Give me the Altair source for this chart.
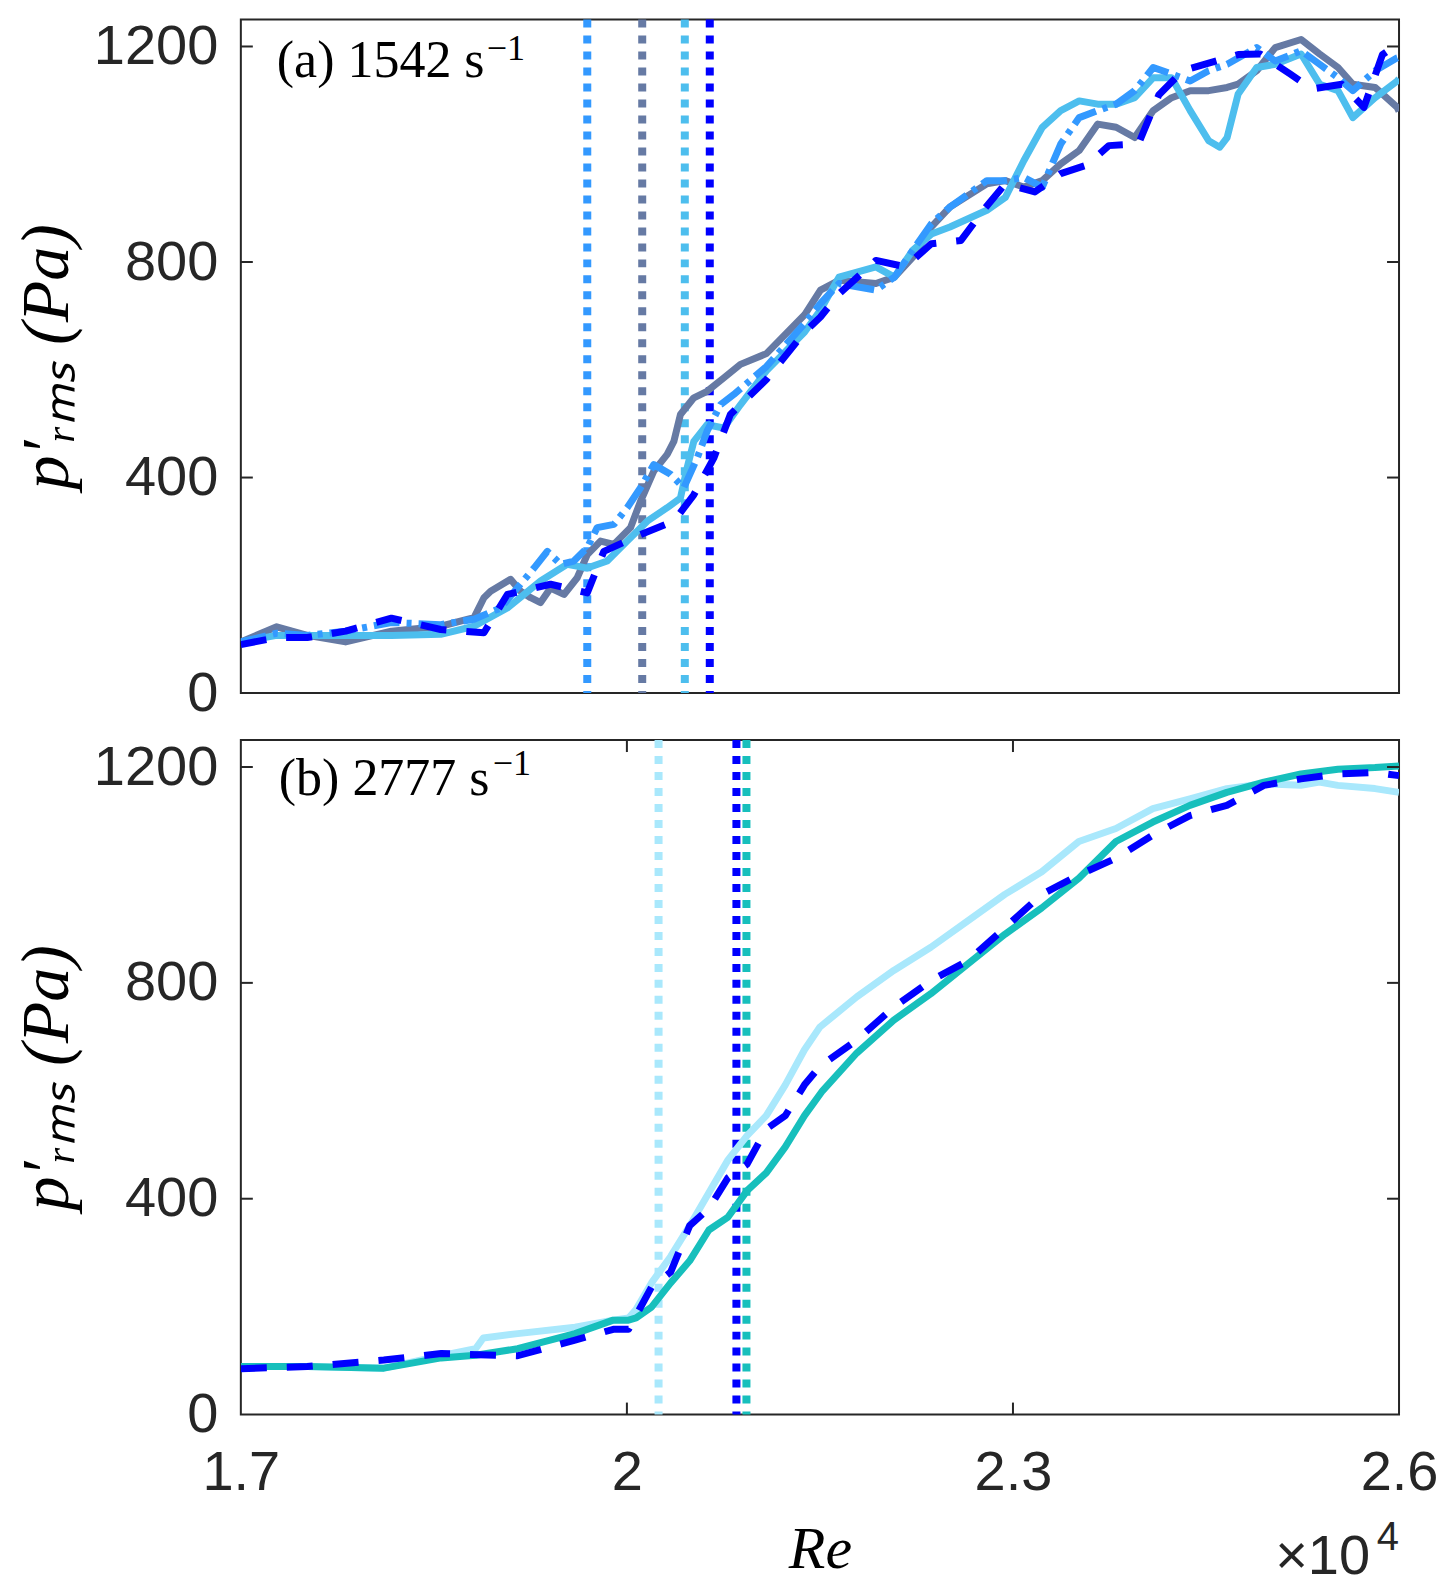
import altair as alt
import pandas as pd

RE_MIN, RE_MAX = 17000, 26000
P_MAX = 1250
W, H_TOP, H_BOT = 1159, 674, 675

# ---------------- panel (a) 1542 s^-1 ----------------
a_grey_re = [17000, 17279, 17516, 17814, 18170, 18553, 18812, 18889, 18941, 19096, 19174, 19252, 19329, 19407,
             19511, 19614, 19692, 19795, 19899, 20028, 20106, 20209, 20313, 20365, 20416, 20520, 20623, 20753,
             20882, 21084, 21381, 21504, 21648, 21935, 22079, 22222, 22366, 22510, 22797, 22941, 23084, 23228,
             23371, 23515, 23659, 23802, 23946, 24090, 24233, 24377, 24521, 24664, 24750, 24894, 25038, 25239,
             25383, 25526, 25641, 25814, 25986, 26000]
a_grey_p = [95, 123, 107, 95, 115, 124, 140, 177, 189, 211, 189, 177, 168, 195,
            183, 214, 257, 282, 276, 307, 356, 412, 443, 467, 517, 548, 560, 585,
            610, 630, 702, 748, 766, 760, 772, 809, 865, 902, 945, 951, 939, 951,
            982, 1007, 1056, 1050, 1031, 1081, 1105, 1118, 1118, 1124, 1130, 1155, 1198, 1213,
            1186, 1161, 1130, 1124, 1087, 1080]

a_dodger_re = [17000, 17279, 17516, 17814, 18170, 18553, 18812, 19019, 19148, 19278, 19381, 19485, 19588, 19692,
               19769, 19899, 20002, 20106, 20209, 20339, 20442, 20546, 20623, 20727, 20830, 21084, 21381, 21504,
               21648, 21935, 22079, 22222, 22366, 22510, 22797, 22941, 23084, 23228, 23371, 23515, 23659, 23802,
               23946, 24090, 24233, 24377, 24521, 24664, 24894, 25038, 25239, 25383, 25526, 25641, 25814, 25986,
               26000]
a_dodger_p = [95, 111, 107, 115, 131, 127, 137, 158, 195, 232, 263, 239, 245, 270,
              307, 313, 344, 381, 424, 406, 381, 436, 486, 535, 554, 606, 686, 723,
              760, 748, 772, 822, 871, 902, 951, 951, 957, 939, 1019, 1068, 1081, 1093,
              1118, 1161, 1149, 1136, 1155, 1167, 1198, 1173, 1192, 1167, 1142, 1118, 1155, 1179,
              1180]

a_light_re = [17000, 17279, 17516, 17814, 18170, 18553, 18812, 19071, 19329, 19536, 19692, 19847, 20002, 20158,
              20313, 20416, 20468, 20520, 20623, 20753, 20882, 21084, 21381, 21504, 21648, 21935, 22079, 22222,
              22366, 22510, 22797, 22941, 23084, 23228, 23371, 23515, 23659, 23802, 23946, 24090, 24233, 24377,
              24521, 24607, 24664, 24750, 24894, 25038, 25239, 25383, 25526, 25641, 25814, 25986, 26000]
a_light_p = [95, 107, 107, 107, 107, 109, 124, 158, 208, 239, 232, 245, 282, 319,
             344, 362, 418, 467, 498, 492, 535, 598, 670, 711, 772, 791, 772, 822,
             852, 865, 896, 920, 988, 1050, 1081, 1099, 1093, 1093, 1105, 1142, 1142, 1081,
             1025, 1013, 1031, 1112, 1161, 1167, 1186, 1130, 1118, 1068, 1105, 1136, 1140]

a_blue_re = [17000, 17279, 17516, 17814, 18170, 18553, 18889, 19071, 19407, 19692, 19821, 20106, 20365, 20520,
             20675, 20804, 21084, 21381, 21504, 21648, 21935, 22165, 22366, 22596, 22783, 22941, 23170, 23371,
             23573, 23745, 23975, 24133, 24320, 24750, 24923, 25153, 25325, 25555, 25727, 25871, 25986, 26000]
a_blue_p = [90, 103, 103, 115, 139, 118, 112, 183, 202, 186, 263, 294, 319, 368,
            436, 517, 582, 670, 698, 741, 803, 791, 834, 840, 900, 945, 930, 964,
            980, 1016, 1019, 1110, 1155, 1185, 1186, 1149, 1121, 1130, 1087, 1185, 1204, 1200]

a_vlines_re = [19692, 20119, 20450, 20644]
a_vlines_col = ["#3399FF", "#667AA4", "#4DBEEE", "#0000FF"]

# ---------------- panel (b) 2777 s^-1 ----------------
b_light_re = [17000, 17516, 18111, 18557, 18824, 18884, 19151, 19597, 19894, 20013, 20072, 20191, 20340, 20488,
              20637, 20786, 20934, 21083, 21231, 21380, 21499, 21786, 22074, 22362, 22649, 22937, 23224, 23512,
              23800, 24087, 24375, 24662, 24950, 25238, 25381, 25525, 25813, 26000]
b_light_p = [89, 89, 86, 109, 122, 142, 150, 162, 175, 179, 195, 244, 293, 350,
             411, 472, 517, 554, 611, 676, 718, 774, 823, 866, 915, 964, 1006, 1062,
             1086, 1123, 1141, 1160, 1169, 1166, 1172, 1166, 1160, 1153]

b_teal_re = [17000, 17516, 18111, 18557, 18824, 19151, 19597, 19894, 20013, 20072, 20191, 20340, 20488, 20637,
             20786, 20934, 21083, 21231, 21380, 21520, 21786, 22074, 22362, 22649, 22937, 23224, 23512, 23800,
             24087, 24375, 24662, 24950, 25238, 25525, 25813, 26000]
b_teal_p = [89, 89, 86, 105, 110, 122, 150, 175, 175, 179, 199, 244, 285, 342,
            366, 415, 448, 496, 554, 600, 670, 731, 780, 835, 890, 939, 994, 1062,
            1098, 1129, 1153, 1172, 1187, 1196, 1199, 1202]

b_blue_re = [17000, 17516, 18111, 18557, 19151, 19597, 19894, 20013, 20191, 20340, 20488, 20637, 20786, 20934,
             21083, 21231, 21380, 21499, 21786, 22074, 22362, 22649, 22937, 23224, 23512, 23800, 24087, 24375,
             24662, 24950, 25238, 25525, 25813, 26000]
b_blue_p = [85, 89, 101, 113, 109, 138, 158, 158, 236, 264, 350, 382, 439, 464,
            529, 554, 611, 645, 694, 755, 804, 841, 902, 964, 1000, 1031, 1074, 1110,
            1129, 1166, 1178, 1187, 1190, 1184]

b_vlines_re = [20246, 20851, 20929]
b_vlines_col = ["#A9E8FC", "#0000FF", "#17BFBC"]

y_ticks = [0, 400, 800, 1200]
y_inner_ticks = [400, 800, 1200]
x_ticks = [17000, 20000, 23000, 26000]
x_inner_ticks = [20000, 23000]

AXIS_COLOR = "#262626"
SANS = "Liberation Sans"
SERIF = "Liberation Serif"
LW = 7

xs = alt.Scale(domain=[RE_MIN, RE_MAX], nice=False, zero=False)
ys = alt.Scale(domain=[0, P_MAX], nice=False)

Y_AXIS = alt.Axis(values=y_ticks, format="d", ticks=False, domain=False, grid=False,
                  labelFont=SANS, labelFontSize=56, labelColor=AXIS_COLOR, labelPadding=23,
                  title="p′ᵣₘₛ  (Pa)", titleFont=SERIF, titleFontStyle="italic",
                  titleFontWeight="normal", titleFontSize=68, titleColor="black",
                  titlePadding=12)
X_AXIS = alt.Axis(values=x_ticks, ticks=False, domain=False, grid=False,
                  labelExpr="format(datum.value / 10000, '~g')",
                  labelFont=SANS, labelFontSize=56, labelColor=AXIS_COLOR, labelPadding=31,
                  labelFlush=False, labelOverlap=False,
                  title="Re", titleFont=SERIF, titleFontStyle="italic", titleFontWeight="normal",
                  titleFontSize=60, titleColor="black", titlePadding=20)


def enc_x(field, xaxis):
    if xaxis is None:
        return alt.X(field, scale=xs, axis=None)
    return alt.X(field, scale=xs, axis=xaxis)


def line_layer(re, p, color, xaxis, dash=None):
    df = pd.DataFrame({"Re": re, "p": p})
    kw = dict(color=color, strokeWidth=LW, strokeJoin="round", clip=True)
    if dash:
        kw["strokeDash"] = dash
    return alt.Chart(df).mark_line(**kw).encode(
        x=enc_x("Re:Q", xaxis),
        y=alt.Y("p:Q", scale=ys, axis=Y_AXIS),
    )


def vline_layer(re, cols, xaxis):
    df = pd.DataFrame({"Re": re, "c": cols})
    return alt.Chart(df).mark_rule(strokeWidth=8, strokeDash=[8, 8]).encode(
        x=enc_x("Re:Q", xaxis),
        color=alt.Color("c:N", scale=None),
    )


def ytick_layers():
    df = pd.DataFrame({"v": y_inner_ticks})
    left = alt.Chart(df).mark_rule(color=AXIS_COLOR, strokeWidth=2).encode(
        y=alt.Y("v:Q", scale=ys, axis=Y_AXIS), x=alt.value(0), x2=alt.value(12))
    right = alt.Chart(df).mark_rule(color=AXIS_COLOR, strokeWidth=2).encode(
        y=alt.Y("v:Q", scale=ys, axis=Y_AXIS), x=alt.value(W - 12), x2=alt.value(W))
    return [left, right]


def xtick_layers(h, xaxis):
    df = pd.DataFrame({"v": x_inner_ticks})
    bottom = alt.Chart(df).mark_rule(color=AXIS_COLOR, strokeWidth=2).encode(
        x=enc_x("v:Q", xaxis), y=alt.value(h - 12), y2=alt.value(h))
    top = alt.Chart(df).mark_rule(color=AXIS_COLOR, strokeWidth=2).encode(
        x=enc_x("v:Q", xaxis), y=alt.value(0), y2=alt.value(12))
    return [bottom, top]


def text_layer(txt, x, y, size, font=SERIF, align="left", color="black"):
    df = pd.DataFrame({"t": [txt]})
    return alt.Chart(df).mark_text(align=align, baseline="alphabetic", font=font,
                                   fontSize=size, color=color).encode(
        text="t:N", x=alt.value(x), y=alt.value(y))


top = alt.layer(
    vline_layer(a_vlines_re, a_vlines_col, None),
    line_layer(a_grey_re, a_grey_p, "#667AA4", None),
    line_layer(a_light_re, a_light_p, "#4DBEEE", None),
    line_layer(a_dodger_re, a_dodger_p, "#3399FF", None, [26, 7, 5, 7]),
    line_layer(a_blue_re, a_blue_p, "#0000FF", None, [26, 20]),
    *ytick_layers(),
    text_layer("(a) 1542 s", 36, 57, 52),
    text_layer("−1", 246, 40, 36),
).properties(width=W, height=H_TOP)

bottom = alt.layer(
    vline_layer(b_vlines_re, b_vlines_col, X_AXIS),
    line_layer(b_light_re, b_light_p, "#A9E8FC", X_AXIS),
    line_layer(b_teal_re, b_teal_p, "#17BFBC", X_AXIS),
    line_layer(b_blue_re, b_blue_p, "#0000FF", X_AXIS, [26, 20]),
    *ytick_layers(),
    *xtick_layers(H_BOT, X_AXIS),
    text_layer("(b) 2777 s", 38, 55, 52),
    text_layer("−1", 252, 35, 36),
    text_layer("×10", 1130, 835, 56, font=SANS, align="right", color=AXIS_COLOR),
    text_layer("4", 1159, 811, 40, font=SANS, align="right", color=AXIS_COLOR),
).properties(width=W, height=H_BOT)

chart = alt.vconcat(top, bottom, spacing=13).properties(
    padding={"left": 4, "top": 6, "right": 0, "bottom": 0},
    background="white",
).configure_view(stroke=AXIS_COLOR, strokeWidth=2)

chart.save("out.html", embed_options={"renderer": "svg", "actions": False})
